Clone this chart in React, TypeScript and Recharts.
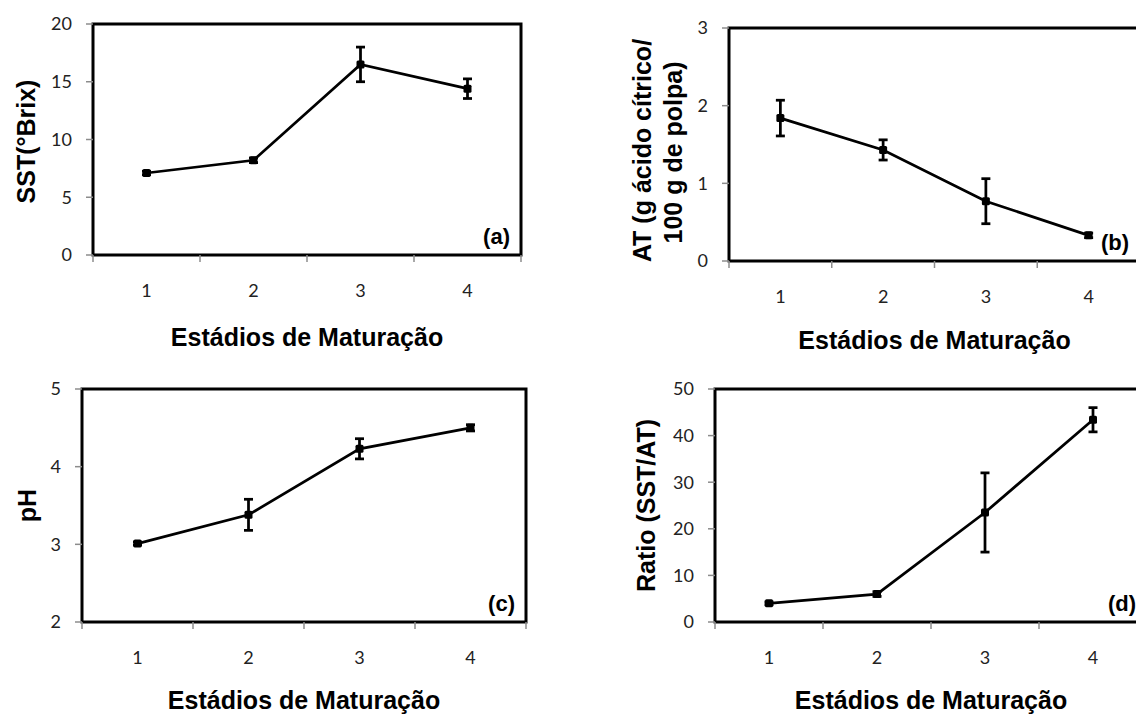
import React from 'react';
import { LineChart, Line, XAxis, YAxis, ErrorBar, ReferenceArea, Label } from 'recharts';

// ---- data ----
const stages = [1, 2, 3, 4];
const stageBounds = [0.5, 1.5, 2.5, 3.5, 4.5];
const xTitle = 'Estádios de Maturação';

const sstMean = [7.1, 8.2, 16.5, 14.4];
const sstErr = [0.15, 0.2, 1.5, 0.85];
const sstTicks = [0, 5, 10, 15, 20];

const atMean = [1.84, 1.43, 0.77, 0.33];
const atErr = [0.23, 0.13, 0.29, 0.03];
const atTicks = [0, 1, 2, 3];

const phMean = [3.01, 3.38, 4.23, 4.5];
const phErr = [0.02, 0.2, 0.13, 0.04];
const phTicks = [2, 3, 4, 5];

const ratioMean = [4.0, 6.0, 23.5, 43.4];
const ratioErr = [0.3, 0.5, 8.5, 2.6];
const ratioTicks = [0, 10, 20, 30, 40, 50];

const build = (means: number[], errs: number[]) =>
  stages.map((s, i) => ({ stage: s, mean: means[i], err: errs[i] }));

const xTicks = [...stageBounds, ...stages].sort((a, b) => a - b);

const TICK_SIZE = 7;
const X_TICK_MARGIN = 22;
const TICK_FONT = 'Lato, "Open Sans", sans-serif';
const TITLE_FONT = '"Liberation Sans", Arial, sans-serif';
const TICK_COLOR = '#222';
const TICKLINE_COLOR = '#8c8c8c';

const XTick = (props: any) => {
  const { x, y, payload } = props;
  const v = payload.value;
  if (Number.isInteger(v)) {
    return (
      <text x={x} y={y} dy="0.71em" textAnchor="middle" fontFamily={TICK_FONT} fontSize={18} fill={TICK_COLOR}>
        {v}
      </text>
    );
  }
  const y0 = y - X_TICK_MARGIN - TICK_SIZE;
  return <line x1={x} x2={x} y1={y0} y2={y0 + TICK_SIZE} stroke={TICKLINE_COLOR} strokeWidth={1.5} />;
};

const renderDot = (p: any) => (
  <rect key={`d${p.index}`} x={p.cx - 4} y={p.cy - 4} width={8} height={8} rx={1.5} fill="#000" />
);

type YLab = { text: string; offset: number; dy: number };

type PanelProps = {
  left: number;
  top: number;
  width: number;
  height: number;
  marginTop: number;
  marginRight: number;
  yWidth: number;
  xHeight: number;
  titleOffset: number;
  data: { stage: number; mean: number; err: number }[];
  yDomain: [number, number];
  yTicks: number[];
  yLabels: YLab[];
  tag: string;
};

const Panel = (p: PanelProps) => (
  <div style={{ position: 'absolute', left: p.left, top: p.top, width: p.width, height: p.height }}>
    <LineChart
      width={p.width}
      height={p.height}
      data={p.data}
      margin={{ top: p.marginTop, right: p.marginRight, bottom: 0, left: 0 }}
    >
      <XAxis
        dataKey="stage"
        type="number"
        domain={[0.5, 4.5]}
        ticks={xTicks}
        interval={0}
        tickLine={false}
        axisLine={false}
        tick={XTick}
        tickSize={TICK_SIZE}
        tickMargin={X_TICK_MARGIN}
        height={p.xHeight}
      >
        <Label
          value={xTitle}
          position="insideTop"
          offset={p.titleOffset}
          fill="#000"
          fontSize={25}
          fontWeight="bold"
          fontFamily={TITLE_FONT}
        />
      </XAxis>
      <YAxis
        type="number"
        domain={p.yDomain}
        ticks={p.yTicks}
        interval={0}
        width={p.yWidth}
        tickSize={TICK_SIZE}
        tickMargin={14}
        axisLine={false}
        tickLine={{ stroke: TICKLINE_COLOR, strokeWidth: 1.5 }}
        tick={{ fontFamily: TICK_FONT, fontSize: 18, fill: TICK_COLOR }}
        allowDataOverflow
      >
        {p.yLabels.map((l, i) => (
          <Label
            key={i}
            value={l.text}
            angle={-90}
            position="insideLeft"
            offset={l.offset}
            dy={l.dy}
            fill="#000"
            fontSize={25}
            fontWeight="bold"
            fontFamily={TITLE_FONT}
            style={{ textAnchor: 'middle' }}
          />
        ))}
      </YAxis>
      <ReferenceArea
        y1={p.yDomain[0]}
        y2={p.yDomain[1]}
        fill="none"
        fillOpacity={0}
        stroke="#000"
        strokeWidth={3}
        ifOverflow="visible"
      >
        <Label
          value={p.tag}
          position="insideBottomRight"
          offset={11}
          fill="#000"
          fontSize={22}
          fontWeight="bold"
          fontFamily={TITLE_FONT}
        />
      </ReferenceArea>
      <Line
        dataKey="mean"
        stroke="#000"
        strokeWidth={2.75}
        dot={renderDot}
        activeDot={false}
        isAnimationActive={false}
      >
        <ErrorBar dataKey="err" width={4.5} strokeWidth={2.75} stroke="#000" direction="y" isAnimationActive={false} />
      </Line>
    </LineChart>
  </div>
);

export default function App() {
  return (
    <div
      style={{
        position: 'absolute',
        left: 0,
        top: 0,
        width: 1136,
        height: 715,
        overflow: 'hidden',
        background: '#fff',
      }}
    >
      <Panel
        left={0}
        top={0}
        width={560}
        height={360}
        marginTop={24}
        marginRight={39}
        yWidth={93}
        xHeight={105}
        titleOffset={73}
        data={build(sstMean, sstErr)}
        yDomain={[0, 20]}
        yTicks={sstTicks}
        yLabels={[{ text: 'SST(°Brix)', offset: 26, dy: 2 }]}
        tag="(a)"
      />
      <Panel
        left={590}
        top={0}
        width={560}
        height={360}
        marginTop={28}
        marginRight={10}
        yWidth={139}
        xHeight={99}
        titleOffset={70}
        data={build(atMean, atErr)}
        yDomain={[0, 3]}
        yTicks={atTicks}
        yLabels={[
          { text: 'AT (g ácido cítrico/', offset: 52, dy: 6 },
          { text: '100 g de polpa)', offset: 83, dy: 8 },
        ]}
        tag="(b)"
      />
      <Panel
        left={0}
        top={360}
        width={560}
        height={355}
        marginTop={29}
        marginRight={34}
        yWidth={82}
        xHeight={93}
        titleOffset={69}
        data={build(phMean, phErr)}
        yDomain={[2, 5]}
        yTicks={phTicks}
        yLabels={[{ text: 'pH', offset: 27, dy: 0 }]}
        tag="(c)"
      />
      <Panel
        left={590}
        top={360}
        width={560}
        height={355}
        marginTop={29}
        marginRight={3}
        yWidth={125}
        xHeight={93}
        titleOffset={69}
        data={build(ratioMean, ratioErr)}
        yDomain={[0, 50]}
        yTicks={ratioTicks}
        yLabels={[{ text: 'Ratio (SST/AT)', offset: 56, dy: 0 }]}
        tag="(d)"
      />
    </div>
  );
}
